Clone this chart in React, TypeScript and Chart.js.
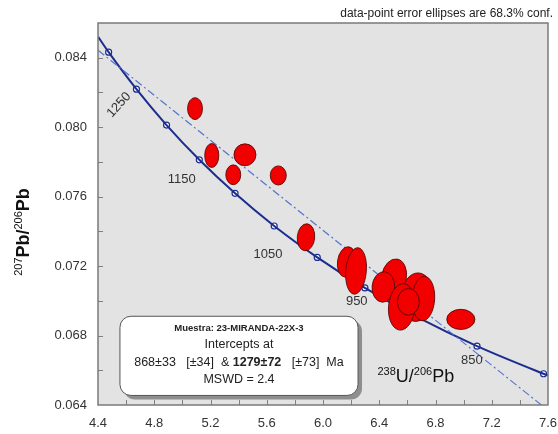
import React, { useEffect, useRef } from 'react';
import { Chart, registerables } from 'chart.js';
Chart.register(...registerables);

// Concordia (ages in Ma)
const concordiaAges = [1320, 1300, 1250, 1200, 1150, 1100, 1050, 1000, 950, 900, 850, 800, 797];
const concordiaX = [4.401, 4.4756, 4.6733, 4.8875, 5.1204, 5.3745, 5.6529, 5.9592, 6.298, 6.6744, 7.0952, 7.5682, 7.6];
const concordiaY = [0.0852, 0.08432, 0.08219, 0.08012, 0.07812, 0.07619, 0.07431, 0.0725, 0.07074, 0.06904, 0.06739, 0.0658, 0.0657];
const markerAges = [1300, 1250, 1200, 1150, 1100, 1050, 1000, 950, 900, 850, 800];

// Discordia (intercepts 868 & 1279 Ma), extended to plot edges
const discordiaX = [4.4, 7.553];
const discordiaY = [0.08443, 0.064];

// Error ellipses: centre, semi-axes (data units), tilt (deg)
const ellX = [5.09, 5.209, 5.445, 5.362, 5.682, 5.879, 6.169, 6.235, 6.667, 6.714, 6.505, 6.429, 6.56, 6.607, 6.98];
const ellY = [0.08107, 0.07837, 0.07841, 0.07726, 0.07722, 0.07366, 0.07224, 0.07172, 0.07021, 0.07013, 0.07137, 0.0708, 0.06965, 0.06994, 0.06893];
const ellRx = [0.053, 0.05, 0.078, 0.053, 0.057, 0.062, 0.066, 0.073, 0.114, 0.08, 0.088, 0.08, 0.094, 0.078, 0.1];
const ellRy = [0.00063, 0.00069, 0.00063, 0.00057, 0.00055, 0.00078, 0.00088, 0.00134, 0.0014, 0.00128, 0.00105, 0.00088, 0.00134, 0.00077, 0.00058];
const ellAngle = [0, 0, 0, 0, 0, 5, 8, 5, 5, 3, 10, 5, 5, 0, 0];

// Age labels on concordia
const ageLabels = ['1250', '1150', '1050', '950', '850'];
const ageLabelX = [4.549, 4.995, 5.609, 6.24, 7.058];
const ageLabelY = [0.08128, 0.07699, 0.0727, 0.06994, 0.06659];
const ageLabelRot = [-48, 0, 0, 0, 0];

const FONT = '"Liberation Sans", Arial, Helvetica, sans-serif';

type Part = { t: string; size: number; bold?: boolean; rise?: number };

function drawRich(ctx: CanvasRenderingContext2D, parts: Part[], x: number, y: number, align: 'left' | 'center' | 'right') {
  let total = 0;
  const widths = parts.map((p) => {
    ctx.font = `${p.bold ? 'bold ' : ''}${p.size}px ${FONT}`;
    const w = ctx.measureText(p.t).width;
    total += w;
    return w;
  });
  let cx = align === 'center' ? x - total / 2 : align === 'right' ? x - total : x;
  ctx.textAlign = 'left';
  ctx.textBaseline = 'alphabetic';
  parts.forEach((p, i) => {
    ctx.font = `${p.bold ? 'bold ' : ''}${p.size}px ${FONT}`;
    ctx.fillText(p.t, cx, y - (p.rise || 0));
    cx += widths[i];
  });
}

function roundRectPath(ctx: CanvasRenderingContext2D, x: number, y: number, w: number, h: number, r: number) {
  ctx.beginPath();
  ctx.moveTo(x + r, y);
  ctx.lineTo(x + w - r, y);
  ctx.arcTo(x + w, y, x + w, y + r, r);
  ctx.lineTo(x + w, y + h - r);
  ctx.arcTo(x + w, y + h, x + w - r, y + h, r);
  ctx.lineTo(x + r, y + h);
  ctx.arcTo(x, y + h, x, y + h - r, r);
  ctx.lineTo(x, y + r);
  ctx.arcTo(x, y, x + r, y, r);
  ctx.closePath();
}

const twPlugin = {
  id: 'twPlugin',
  beforeDatasetsDraw(chart: any) {
    const { ctx, chartArea: a } = chart;
    ctx.save();
    ctx.fillStyle = '#e3e3e3';
    ctx.fillRect(a.left, a.top, a.right - a.left, a.bottom - a.top);
    ctx.restore();
  },
  afterDatasetsDraw(chart: any) {
    const { ctx, chartArea: a } = chart;
    const xs = chart.scales.x;
    const ys = chart.scales.y;

    // ellipses
    ctx.save();
    ctx.beginPath();
    ctx.rect(a.left, a.top, a.right - a.left, a.bottom - a.top);
    ctx.clip();
    for (let i = 0; i < ellX.length; i++) {
      const cx = xs.getPixelForValue(ellX[i]);
      const cy = ys.getPixelForValue(ellY[i]);
      const rx = Math.abs(xs.getPixelForValue(ellX[i] + ellRx[i]) - cx);
      const ry = Math.abs(ys.getPixelForValue(ellY[i] + ellRy[i]) - cy);
      ctx.beginPath();
      ctx.ellipse(cx, cy, rx, ry, (ellAngle[i] * Math.PI) / 180, 0, Math.PI * 2);
      ctx.fillStyle = '#f20000';
      ctx.fill();
      ctx.lineWidth = 0.9;
      ctx.strokeStyle = '#5a0808';
      ctx.stroke();
    }
    ctx.restore();

    // inner tick marks
    ctx.save();
    ctx.strokeStyle = '#808080';
    ctx.lineWidth = 1;
    xs.ticks.forEach((t: any) => {
      const px = Math.round(xs.getPixelForValue(t.value)) + 0.5;
      if (px <= a.left + 1 || px >= a.right - 1) return;
      ctx.beginPath();
      ctx.moveTo(px, a.bottom);
      ctx.lineTo(px, a.bottom - 5);
      ctx.stroke();
    });
    ys.ticks.forEach((t: any) => {
      const py = Math.round(ys.getPixelForValue(t.value)) + 0.5;
      if (py <= a.top + 1 || py >= a.bottom - 1) return;
      ctx.beginPath();
      ctx.moveTo(a.left, py);
      ctx.lineTo(a.left + 5, py);
      ctx.stroke();
    });
    // frame
    ctx.strokeStyle = '#7a7a7a';
    ctx.lineWidth = 1.5;
    ctx.strokeRect(a.left, a.top, a.right - a.left, a.bottom - a.top);
    ctx.restore();

    // age labels
    ctx.save();
    ctx.fillStyle = '#333';
    ctx.font = `13px ${FONT}`;
    ctx.textAlign = 'center';
    ctx.textBaseline = 'middle';
    for (let i = 0; i < ageLabels.length; i++) {
      const px = xs.getPixelForValue(ageLabelX[i]);
      const py = ys.getPixelForValue(ageLabelY[i]);
      ctx.save();
      ctx.translate(px, py);
      ctx.rotate((ageLabelRot[i] * Math.PI) / 180);
      ctx.fillText(ageLabels[i], 0, 0);
      ctx.restore();
    }
    ctx.restore();

    // x-axis title inside plot
    ctx.save();
    ctx.fillStyle = '#111';
    drawRich(
      ctx,
      [
        { t: '238', size: 11, rise: 7 },
        { t: 'U/', size: 18 },
        { t: '206', size: 11, rise: 7 },
        { t: 'Pb', size: 18 },
      ],
      xs.getPixelForValue(6.66),
      ys.getPixelForValue(0.06535),
      'center'
    );
    ctx.restore();

    // y-axis title (rotated)
    ctx.save();
    ctx.fillStyle = '#111';
    ctx.translate(29, (a.top + a.bottom) / 2 + 18);
    ctx.rotate(-Math.PI / 2);
    drawRich(
      ctx,
      [
        { t: '207', size: 11, rise: 7 },
        { t: 'Pb/', size: 18, bold: true },
        { t: '206', size: 11, rise: 7 },
        { t: 'Pb', size: 18, bold: true },
      ],
      0,
      0,
      'center'
    );
    ctx.restore();

    // result box
    const bx1 = xs.getPixelForValue(4.556);
    const bx2 = xs.getPixelForValue(6.249);
    const by1 = ys.getPixelForValue(0.06911);
    const by2 = ys.getPixelForValue(0.06455);
    ctx.save();
    roundRectPath(ctx, bx1 + 4, by1 + 4, bx2 - bx1, by2 - by1, 11);
    ctx.fillStyle = '#8e8e8e';
    ctx.fill();
    roundRectPath(ctx, bx1, by1, bx2 - bx1, by2 - by1, 11);
    ctx.fillStyle = '#ffffff';
    ctx.fill();
    ctx.strokeStyle = '#555';
    ctx.lineWidth = 1;
    ctx.stroke();
    const mid = (bx1 + bx2) / 2;
    ctx.fillStyle = '#222';
    drawRich(ctx, [{ t: 'Muestra: 23-MIRANDA-22X-3', size: 9.5, bold: true }], mid, by1 + 15, 'center');
    drawRich(ctx, [{ t: 'Intercepts at', size: 12.5 }], mid, by1 + 32, 'center');
    drawRich(
      ctx,
      [
        { t: '868±33   [±34]  & ', size: 12.5 },
        { t: '1279±72', size: 12.5, bold: true },
        { t: '   [±73]  Ma', size: 12.5 },
      ],
      mid,
      by1 + 50,
      'center'
    );
    drawRich(ctx, [{ t: 'MSWD = 2.4', size: 12.5 }], mid, by1 + 67, 'center');
    ctx.restore();

    // top note
    ctx.save();
    ctx.fillStyle = '#222';
    drawRich(ctx, [{ t: 'data-point error ellipses are 68.3% conf.', size: 12 }], 553, 17, 'right');
    ctx.restore();
  },
};

export default function App() {
  const ref = useRef<HTMLCanvasElement>(null);
  useEffect(() => {
    if (!ref.current) return;
    const curve = concordiaX.map((x, i) => ({ x, y: concordiaY[i] }));
    const markers = markerAges.map((age) => {
      const i = concordiaAges.indexOf(age);
      return { x: concordiaX[i], y: concordiaY[i] };
    });
    const disc = discordiaX.map((x, i) => ({ x, y: discordiaY[i] }));
    const chart = new Chart(ref.current, {
      type: 'scatter',
      data: {
        datasets: [
          {
            data: disc,
            showLine: true,
            borderColor: '#5574cc',
            borderWidth: 1.2,
            borderDash: [8, 3, 2, 3],
            pointRadius: 0,
            clip: 0,
          } as any,
          {
            data: curve,
            showLine: true,
            borderColor: '#1b2d8e',
            borderWidth: 2,
            cubicInterpolationMode: 'monotone',
            pointRadius: 0,
            clip: 0,
          } as any,
          {
            data: markers,
            showLine: false,
            pointRadius: 3,
            pointBackgroundColor: '#ffffff',
            pointBorderColor: '#1b2d8e',
            pointBorderWidth: 1.2,
          } as any,
        ],
      },
      options: {
        responsive: false,
        animation: false,
        devicePixelRatio: 1,
        layout: { padding: { top: 23, right: 10, left: 0, bottom: 0 } },
        plugins: { legend: { display: false }, tooltip: { enabled: false } },
        scales: {
          x: {
            type: 'linear',
            min: 4.4,
            max: 7.6,
            grid: { display: false, drawTicks: true, tickLength: 11, color: 'rgba(0,0,0,0)' },
            border: { display: false },
            afterFit: (s: any) => {
              s.height = 29;
            },
            ticks: {
              stepSize: 0.2,
              padding: 0,
              color: '#333',
              font: { family: FONT, size: 13 },
              maxRotation: 0,
              autoSkip: false,
              callback: (v: any) => (Math.round(Number(v) * 10) % 4 === 0 ? Number(v).toFixed(1) : ''),
            },
          },
          y: {
            type: 'linear',
            min: 0.064,
            max: 0.086,
            grid: { display: false, drawTicks: false },
            border: { display: false },
            afterFit: (s: any) => {
              s.width = 98;
            },
            ticks: {
              stepSize: 0.002,
              padding: 11,
              color: '#333',
              font: { family: FONT, size: 13 },
              autoSkip: false,
              callback: (v: any) => (Math.round(Number(v) * 1000) % 4 === 0 ? Number(v).toFixed(3) : ''),
            },
          },
        },
      },
      plugins: [twPlugin],
    });
    return () => chart.destroy();
  }, []);
  return (
    <div style={{ position: 'absolute', left: 0, top: 0, width: 558, height: 434, background: '#fff' }}>
      <canvas ref={ref} width={558} height={434} style={{ display: 'block' }} />
    </div>
  );
}
